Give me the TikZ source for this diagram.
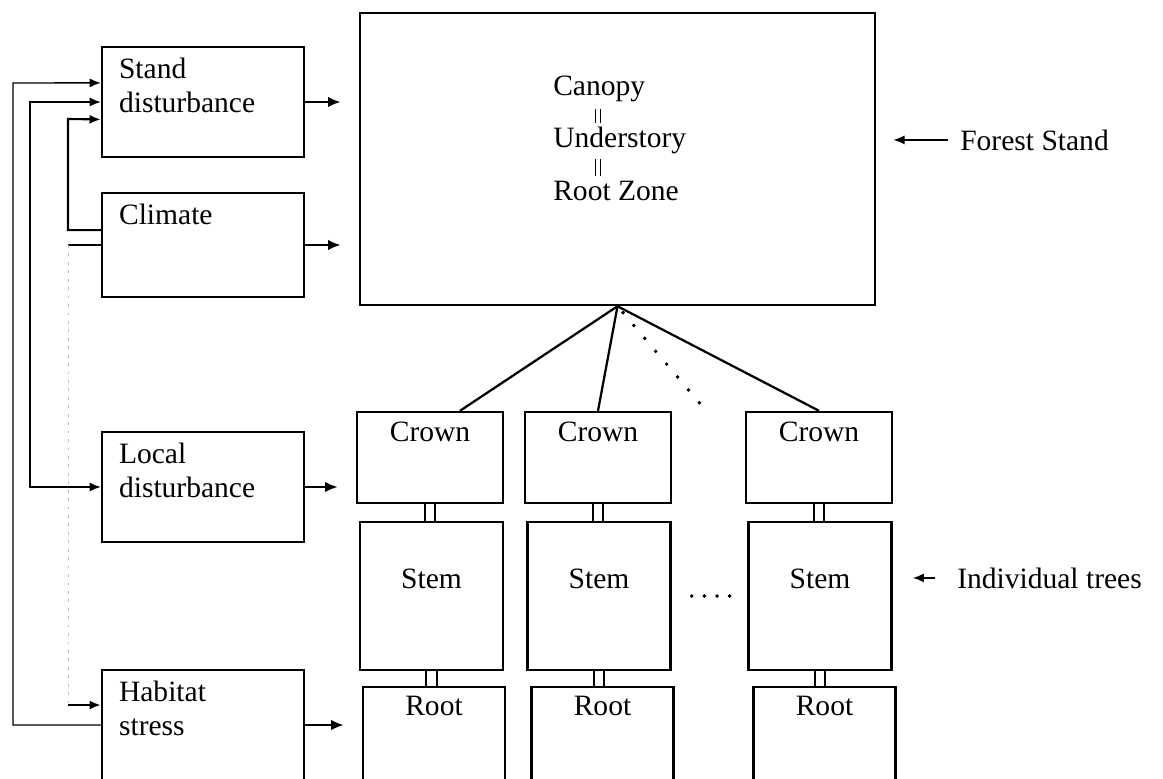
\documentclass[tikz,border=0pt]{standalone}
\usepackage{fontspec}
\setmainfont{Liberation Serif}
\usetikzlibrary{arrows.meta,positioning,calc}
\tikzset{box/.style={draw,line width=1.7pt,inner sep=0pt},
lbl/.style={inner sep=0pt,font=\fontsize{21}{24}\selectfont,align=left},
flow/.style={-{Latex[length=9pt,width=7.5pt]},line width=1.6pt,shorten >=0.45cm},
fb/.style={-{Latex[length=8pt,width=6.5pt]},line width=1pt},
faint/.style={draw=black!25,line width=0.6pt,dash pattern=on 2pt off 4pt},
link/.style={line width=1.6pt},
stalk/.style={double,double distance=6pt,line width=1.3pt},
bars/.style={double,double distance=2.2pt,line width=0.7pt},
dotline/.style={line width=2.8pt,line cap=round,dash pattern=on 0pt off 12pt}}
\begin{document}
\begin{tikzpicture}[x=0.025cm,y=-0.025cm]
\useasboundingbox (0,0) rectangle (1163,778);
\clip (0,0) rectangle (1163,778);
% driver boxes
\node[box,minimum width=5.05cm,minimum height=2.75cm] (stand) at (203,102) {};
\node[box,minimum width=5.05cm,minimum height=2.6cm] (climate) at (203,245) {};
\node[box,minimum width=5.05cm,minimum height=2.75cm] (local) at (203,487) {};
\node[box,minimum width=5.05cm,minimum height=2.75cm] (habitat) at (203,725) {};
\node[lbl,anchor=north west] (standtxt) at ($(stand.north west)+(18,12)$) {Stand\\disturbance};
\node[lbl,anchor=north west] (climatetxt) at ($(climate.north west)+(18,12)$) {Climate};
\node[lbl,anchor=north west] (localtxt) at ($(local.north west)+(18,12)$) {Local\\disturbance};
\node[lbl,anchor=north west] (habitattxt) at ($(habitat.north west)+(18,12)$) {Habitat\\stress};
% stand level
\node[box,minimum width=12.875cm,minimum height=7.3cm] (forest) at (617.5,159) {};
\node[lbl,anchor=base west] (canopy) at (553,95) {Canopy};
\node[lbl,anchor=base west] (under) at (553,147) {Understory};
\node[lbl,anchor=base west] (rzone) at (553,200) {Root Zone};
\draw[bars] ($(canopy.base west)+(45,14)$) -- ($(under.base west)+(45,-24)$);
\draw[bars] ($(under.base west)+(45,12)$) -- ($(rzone.base west)+(45,-24)$);
% tree level
\node[box,minimum width=3.65cm,minimum height=2.275cm] (crown1) at (430,457.5) {};
\node[box,minimum width=3.65cm,minimum height=2.275cm] (crown2) at (598,457.5) {};
\node[box,minimum width=3.65cm,minimum height=2.275cm] (crown3) at (819,457.5) {};
\node[box,minimum width=3.575cm,minimum height=3.7cm] (stem1) at (431.5,596) {};
\node[box,minimum width=3.575cm,minimum height=3.7cm] (stem2) at (599,596) {};
\node[box,minimum width=3.575cm,minimum height=3.7cm] (stem3) at (820,596) {};
\node[box,minimum width=3.55cm,minimum height=2.35cm] (root1) at (434,734) {};
\node[box,minimum width=3.55cm,minimum height=2.35cm] (root2) at (602.5,734) {};
\node[box,minimum width=3.55cm,minimum height=2.35cm] (root3) at (824.5,734) {};
\node[lbl,anchor=base] (crown1txt) at ($(crown1.north)+(0,31)$) {Crown};
\node[lbl,anchor=base] (crown2txt) at ($(crown2.north)+(0,31)$) {Crown};
\node[lbl,anchor=base] (crown3txt) at ($(crown3.north)+(0,31)$) {Crown};
\node[lbl,anchor=base] (stem1txt) at ($(stem1.center)+(0,-8)$) {Stem};
\node[lbl,anchor=base] (stem2txt) at ($(stem2.center)+(0,-8)$) {Stem};
\node[lbl,anchor=base] (stem3txt) at ($(stem3.center)+(0,-8)$) {Stem};
\node[lbl,anchor=base] (root1txt) at ($(root1.north)+(0,30)$) {Root};
\node[lbl,anchor=base] (root2txt) at ($(root2.north)+(0,30)$) {Root};
\node[lbl,anchor=base] (root3txt) at ($(root3.north)+(0,30)$) {Root};
% side labels
\node[lbl,anchor=base west] (fslbl) at (960,150) {Forest Stand};
\node[lbl,anchor=base west] (itlbl) at (957,588) {Individual trees};
\draw[fb,line width=1.3pt,shorten <=0.3cm,shorten >=0.425cm] (fslbl.west) -- (fslbl.west -| forest.east);
\draw[fb,line width=1.3pt,shorten <=0.55cm,shorten >=0.5cm] (itlbl.west) -- (itlbl.west -| stem3.east);
% links
\draw[link] (forest.south) -- ($(crown1.north)+(30,0)$);
\draw[link] (forest.south) -- (crown2.north);
\draw[link] (forest.south) -- (crown3.north);
\coordinate (dotend) at (703,407);
\draw[dotline,dash phase=6pt] (forest.south) -- (dotend);
\draw[dotline,dash pattern=on 0pt off 9pt,shorten <=0.5cm,shorten >=0.25cm] (stem2.east) -- (stem3.west);
\draw[stalk] (crown1.south) -- (crown1.south |- stem1.north);
\draw[stalk] (crown2.south) -- (crown2.south |- stem2.north);
\draw[stalk] (crown3.south) -- (crown3.south |- stem3.north);
\draw[stalk] (stem1.south) -- (stem1.south |- root1.north);
\draw[stalk] (stem2.south) -- (stem2.south |- root2.north);
\draw[stalk] (stem3.south) -- (stem3.south |- root3.north);
% driver arrows
\draw[flow] (stand.east) -- (stand.east -| forest.west);
\draw[flow] (climate.east) -- (climate.east -| forest.west);
\draw[flow] (local.east) -- (local.east -| crown1.west);
\draw[flow] (habitat.east) -- (habitat.east -| root1.west);
% feedback
\draw[fb] (habitat.west) -| (13,83) -- ($(stand.north west)!0.33!(stand.south west)$);
\draw[fb,{Latex[length=8pt,width=6.5pt]}-{Latex[length=8pt,width=6.5pt]}] (stand.west) -| (30,300) |- (local.west);
\draw[fb,line width=1.5pt] ($(climate.north west)!0.36!(climate.south west)$) -| (68,119) -- ($(stand.north west)!0.655!(stand.south west)$);
\coordinate (cbend) at (68,245);
\coordinate (hbend) at (68,705);
\draw[line width=1pt] (climate.west) -- (cbend);
\draw[faint] (cbend) -- (hbend);
\draw[fb,line width=1.5pt] (hbend) -- (hbend -| habitat.west);
\end{tikzpicture}
\end{document}
